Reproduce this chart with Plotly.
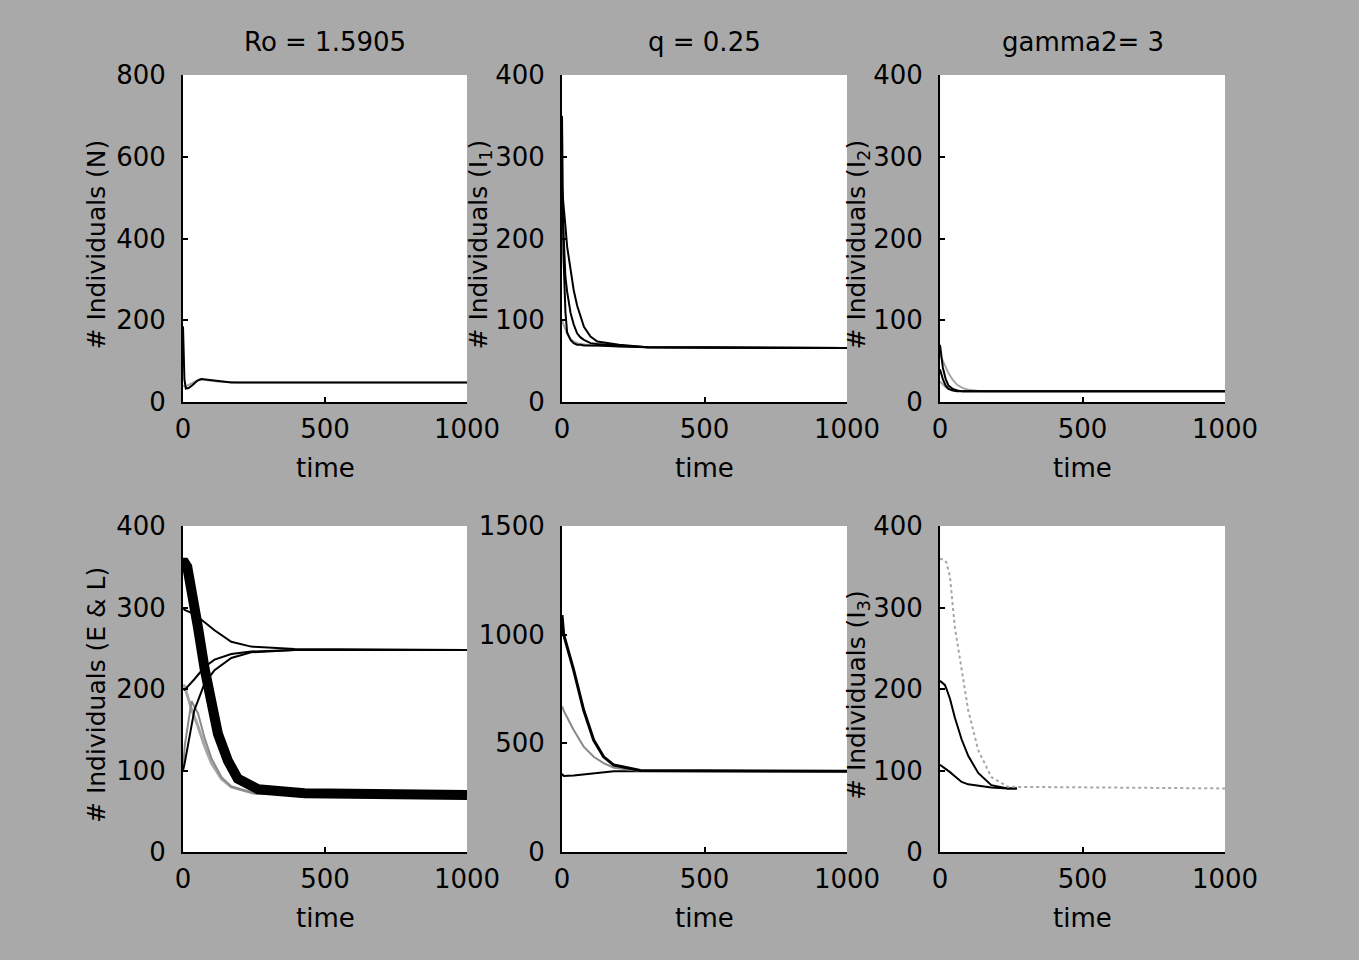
import plotly.graph_objects as go
from plotly.subplots import make_subplots

# ---------------- data ----------------
titles = ["Ro = 1.5905", "q = 0.25", "gamma2= 3"]
ylabels = ["# Individuals (N)", "# Individuals (I<sub>1</sub>)", "# Individuals (I<sub>2</sub>)",
           "# Individuals (E & L)", None, "# Individuals (I<sub>3</sub>)"]
xticks = [0, 500, 1000]

# top-left: N
t_N1 = [0, 2, 5, 10, 20, 35, 50, 65, 80, 100, 130, 170, 250, 1000]
N1 = [185, 110, 55, 33, 34, 42, 52, 56, 55, 52, 50, 48, 48, 48]
t_N2 = [0, 10, 20, 40, 60, 80, 120, 200, 1000]
N2 = [40, 38, 42, 50, 56, 54, 50, 48, 48]

# top-middle: I1
t_I1 = [0, 5, 12, 18, 30, 41, 53, 65, 77, 100, 124, 200, 300, 1000]
I1_a = [350, 180, 110, 85, 76, 72, 70, 70, 69, 69, 69, 68, 67, 66]
I1_b = [250, 200, 153, 135, 109, 95, 84, 79, 76, 72, 71, 69, 67, 66]
I1_c = [262, 245, 215, 190, 160, 137, 118, 104, 92, 80, 74, 70, 67, 66]
I1_d = [100, 95, 88, 83, 77, 74, 72, 71, 70, 69, 69, 68, 67, 66]

# top-right: I2
t_I2 = [0, 5, 10, 20, 30, 45, 60, 80, 100, 150, 1000]
I2_a = [70, 55, 42, 28, 20, 16, 14, 13, 13, 13, 13]
I2_b = [40, 34, 28, 20, 16, 14, 13, 13, 13, 13, 13]
I2_c = [58, 54, 50, 42, 35, 27, 21, 17, 15, 13, 13]
I2_d = [25, 23, 21, 18, 16, 15, 14, 13, 13, 13, 13]

# bottom-left: E & L
t_E = [0, 6, 15, 29, 53, 76, 100, 123, 158, 193, 264, 428, 1000]
E_thick = [355, 355, 350, 325, 275, 225, 182, 145, 112, 90, 77, 72, 70]
t_L = [0, 6, 40, 76, 111, 170, 240, 393, 1000]
L1 = [300, 297, 292, 282, 272, 258, 252, 249, 248]
L2 = [200, 199, 212, 227, 236, 243, 246, 248, 248]
L3 = [100, 109, 174, 207, 223, 238, 245, 248, 248]
t_G = [0, 6, 30, 53, 76, 100, 135, 170, 250, 1000]
G1 = [205, 203, 175, 154, 130, 109, 90, 80, 72, 70]
G2 = [100, 130, 185, 170, 140, 115, 92, 80, 72, 70]

# bottom-middle: S
t_S = [0, 6, 41, 76, 111, 146, 182, 240, 275, 1000]
S1 = [1090, 1000, 837, 653, 515, 438, 400, 386, 375, 372]
S2 = [670, 650, 561, 485, 438, 409, 388, 378, 373, 372]
S3 = [360, 350, 352, 356, 362, 367, 371, 372, 372, 372]

# bottom-right: I3
t_I3g = [0, 17, 23, 35, 52, 76, 99, 134, 180, 238, 1000]
I3_g = [360, 358, 355, 338, 276, 223, 174, 125, 92, 80, 78]
t_I3b = [0, 17, 23, 35, 52, 76, 99, 134, 180, 238, 270]
I3_b1 = [210, 205, 200, 188, 165, 138, 118, 97, 82, 78, 78]
I3_b2 = [107, 103, 101, 98, 93, 86, 83, 81, 79, 78, 78]

y_ranges = [(0, 800, 200), (0, 400, 100), (0, 400, 100), (0, 400, 100), (0, 1500, 500), (0, 400, 100)]

# ---------------- figure ----------------
W, H = 1359, 960
BLACK = "#000000"
GRAY = "#8a8a8a"
LGRAY = "#a6a6a6"
FONT = "DejaVu Sans, Verdana, sans-serif"
FS = 26

fig = make_subplots(rows=2, cols=3, horizontal_spacing=0.05, vertical_spacing=0.1)

def add(row, col, x, y, color, width, dash="solid"):
    fig.add_trace(go.Scatter(x=x, y=y, mode="lines", line=dict(color=color, width=width, dash=dash),
                             showlegend=False, hoverinfo="skip"), row=row, col=col)

add(1, 1, t_N2, N2, LGRAY, 2)
add(1, 1, t_N1, N1, BLACK, 2)

add(1, 2, t_I1, I1_d, LGRAY, 2)
add(1, 2, t_I1, I1_c, BLACK, 2)
add(1, 2, t_I1, I1_b, BLACK, 2)
add(1, 2, t_I1, I1_a, BLACK, 2)

add(1, 3, t_I2, I2_c, LGRAY, 2)
add(1, 3, t_I2, I2_d, LGRAY, 2)
add(1, 3, t_I2, I2_b, BLACK, 2)
add(1, 3, t_I2, I2_a, BLACK, 2)

add(2, 1, t_G, G1, LGRAY, 3)
add(2, 1, t_G, G2, GRAY, 2)
add(2, 1, t_L, L1, BLACK, 2)
add(2, 1, t_L, L2, BLACK, 2)
add(2, 1, t_L, L3, BLACK, 2)
add(2, 1, t_E, E_thick, BLACK, 10)

add(2, 2, t_S, S3, BLACK, 2)
add(2, 2, t_S, S2, GRAY, 2)
add(2, 2, t_S, S1, BLACK, 3)

add(2, 3, t_I3b, I3_b1, BLACK, 2)
add(2, 3, t_I3b, I3_b2, BLACK, 2)
add(2, 3, t_I3g, I3_g, LGRAY, 2, "dot")

# domains in pixels
col_px = [(183, 467), (562, 847), (940, 1225)]
row_px = [(75, 402), (526, 852)]

annotations = []
for r in range(2):
    for c in range(3):
        idx = r * 3 + c
        x0, x1 = col_px[c]
        yt, yb = row_px[r]
        ymin, ymax, ystep = y_ranges[idx]
        fig.update_xaxes(row=r + 1, col=c + 1, domain=[x0 / W, x1 / W], range=[0, 1000],
                         tickvals=xticks, ticks="inside", ticklen=5, tickwidth=2, tickcolor=BLACK,
                         showline=True, linecolor=BLACK, linewidth=2, mirror=False,
                         showgrid=False, zeroline=False, ticklabelstandoff=3, automargin=False,
                         tickfont=dict(family=FONT, size=FS, color=BLACK))
        fig.update_yaxes(row=r + 1, col=c + 1, domain=[1 - yb / H, 1 - yt / H], range=[ymin, ymax],
                         tickvals=list(range(ymin, ymax + 1, ystep)), ticks="inside", ticklen=5,
                         tickwidth=2, tickcolor=BLACK, automargin=False,
                         showline=True, linecolor=BLACK, linewidth=2, mirror=False,
                         showgrid=False, zeroline=False, ticklabelstandoff=10,
                         tickfont=dict(family=FONT, size=FS, color=BLACK))
        cx = (x0 + x1) / 2
        # x title "time"
        annotations.append(dict(text="time", x=cx / W, y=1 - (yb + 66) / H, xref="paper", yref="paper",
                                showarrow=False, xanchor="center", yanchor="middle",
                                font=dict(family=FONT, size=FS, color=BLACK)))
        # y title
        if ylabels[idx]:
            xoff = 87 if c == 0 else 82
            annotations.append(dict(text=ylabels[idx], x=(x0 - xoff) / W, y=1 - ((yt + yb) / 2 + 6) / H,
                                    xref="paper", yref="paper", showarrow=False, textangle=-90,
                                    xanchor="center", yanchor="middle",
                                    font=dict(family=FONT, size=FS - 1, color=BLACK)))
        if r == 0:
            annotations.append(dict(text=titles[c], x=cx / W, y=1 - 42 / H, xref="paper", yref="paper",
                                    showarrow=False, xanchor="center", yanchor="middle",
                                    font=dict(family=FONT, size=FS, color=BLACK)))

fig.update_layout(width=W, height=H, margin=dict(l=0, r=0, t=0, b=0, autoexpand=False), autosize=False,
                  paper_bgcolor="#a9a9a9", plot_bgcolor="#ffffff",
                  annotations=annotations, showlegend=False)

fig.write_html("out.html")
